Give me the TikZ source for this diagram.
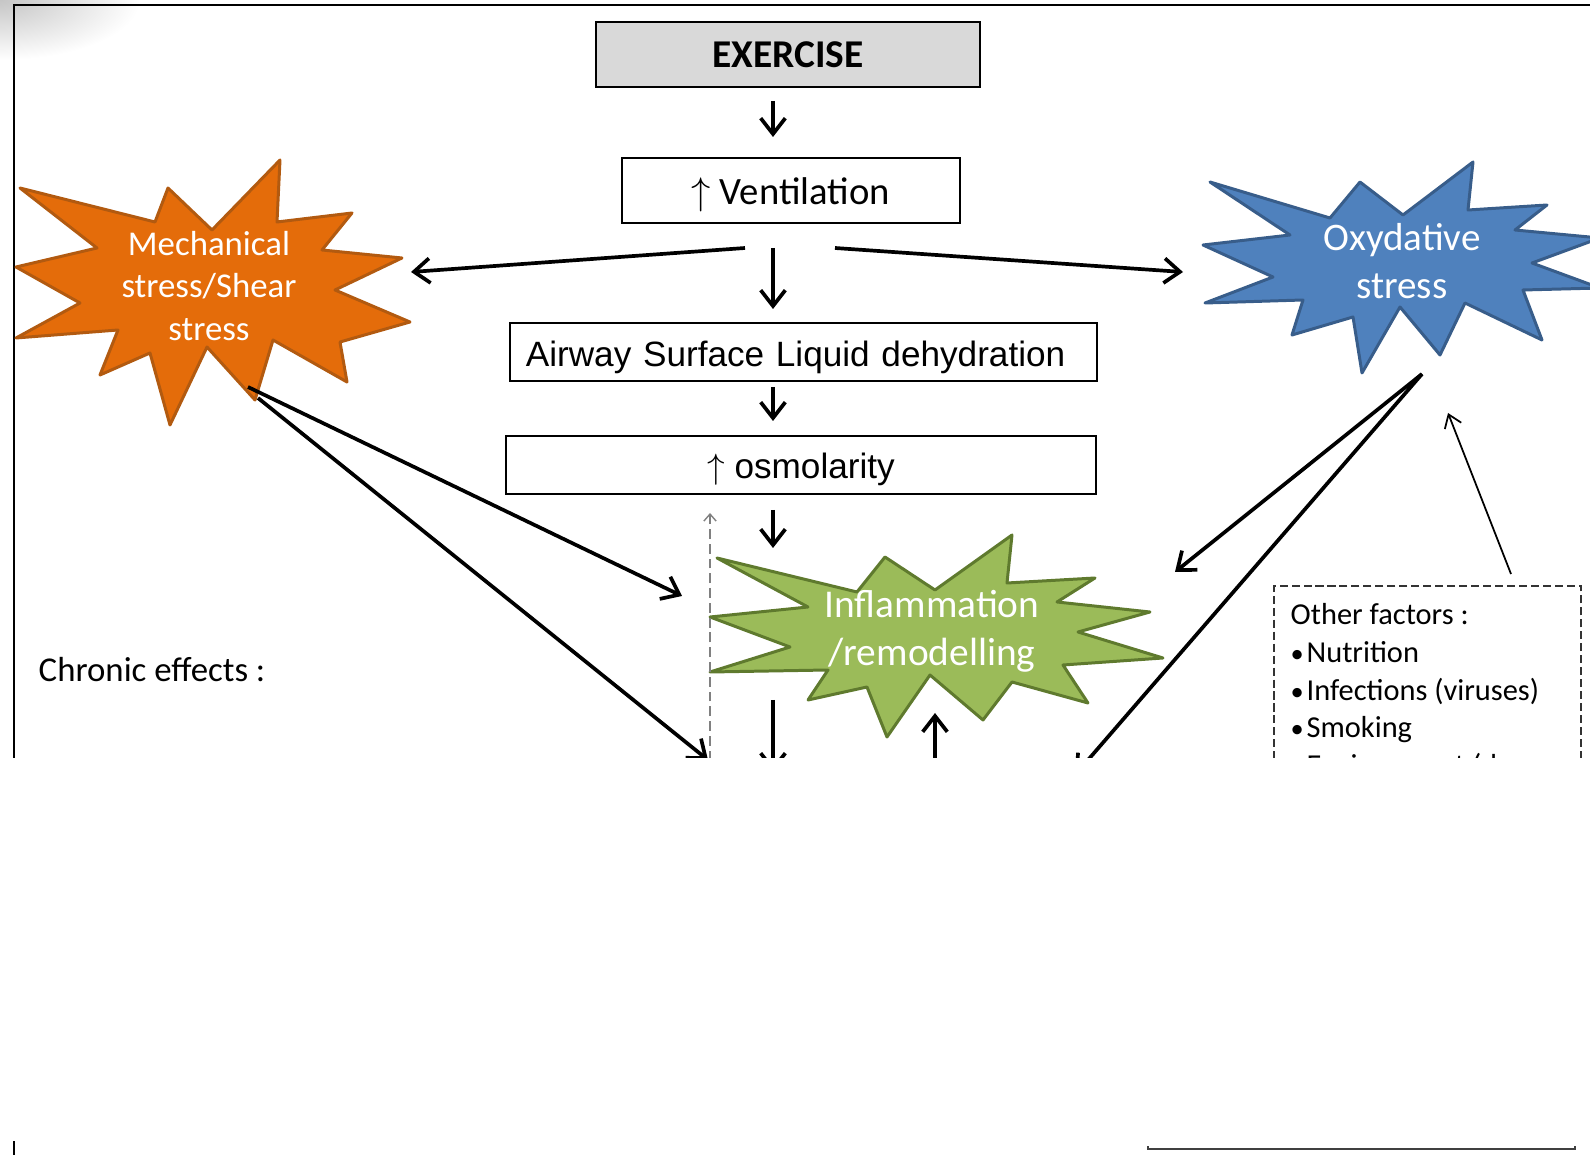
\documentclass[tikz,border=0pt]{standalone}
\usepackage{fontspec}
\setmainfont{Carlito}
\newfontfamily\arialfont{Liberation Sans}
\usetikzlibrary{arrows.meta}
\definecolor{orangefill}{HTML}{E46C0A}
\definecolor{orangeline}{HTML}{B25A10}
\definecolor{bluefill}{HTML}{4F81BD}
\definecolor{blueline}{HTML}{385D8A}
\definecolor{greenfill}{HTML}{9BBB59}
\definecolor{greenline}{HTML}{5F7A2E}
\definecolor{boxgray}{HTML}{D9D9D9}
\newcommand{\smallbullet}{{\fontsize{7.5}{6}\selectfont\textbullet}\hspace{0.8pt}}

\begin{document}
\begin{tikzpicture}[x=0.01cm,y=-0.01cm,
    box/.style={draw=black,line width=0.6pt,inner sep=0pt},
    flow/.style={line width=1.05pt,-{Straight Barb[length=4.5pt,width=7pt]}},
    thinflow/.style={line width=0.5pt,-{Straight Barb[length=3.5pt,width=5pt]}},
    backflow/.style={gray,line width=0.4pt,dash pattern=on 2.8pt off 1.4pt,-{Straight Barb[length=2pt,width=3.5pt]}},
    burst/.style={line width=0.85pt,line join=round},
    bursttext/.style={text=white,align=center}]
    \useasboundingbox (0,0) rectangle (1590,1155);
    \begin{scope}
    \clip (0,0) rectangle (140,60);
    \shade[inner color=gray!45,outer color=white] (0,0) ellipse (140 and 60);
    \end{scope}

    \begin{scope}
    \clip (0,0) rectangle (1590,758);
    \draw[line width=0.6pt] (1590,5) -- (14,5) -- (14,770);

    %bursts
    \filldraw[burst,fill=orangefill,draw=orangeline] (280,160) -- (277,222) -- (352,213) -- (322,250) -- (402,258) -- (335,290) -- (410,322) -- (340,342) -- (347,382) -- (273,340) -- (255,400) -- (207,347) -- (170,425) -- (150,353) -- (100,375) -- (118,330) -- (16,338) -- (80,303) -- (16,267) -- (97,248) -- (20,188) -- (155,222) -- (168,188) -- (212,230) -- cycle;
    \filldraw[burst,fill=bluefill,draw=blueline] (1473,162) -- (1468,210) -- (1547,205) -- (1515,230) -- (1600,238) -- (1532,263) -- (1600,288) -- (1523,290) -- (1542,340) -- (1465,303) -- (1440,355) -- (1400,307) -- (1362,373) -- (1353,317) -- (1292,335) -- (1303,300) -- (1205,303) -- (1273,277) -- (1203,245) -- (1290,235) -- (1210,182) -- (1330,218) -- (1360,182) -- (1403,215) -- cycle;
    \filldraw[burst,fill=greenfill,draw=greenline] (1012,535) -- (1007,583) -- (1095,578) -- (1057,602) -- (1150,612) -- (1078,632) -- (1163,658) -- (1063,665) -- (1088,703) -- (1012,682) -- (983,720) -- (930,675) -- (887,737) -- (867,687) -- (808,700) -- (828,670) -- (710,672) -- (790,647) -- (710,617) -- (808,607) -- (717,558) -- (857,592) -- (885,557) -- (935,590) -- cycle;

    \node[bursttext,font=\fontsize{9.9}{12.2}\selectfont] (mech) at (209,286) {Mechanical\\stress/Shear\\stress};
    \node[bursttext,font=\fontsize{11.1}{13.7}\selectfont] (oxy) at (1402,261) {Oxydative\\stress};
    \node[bursttext,font=\fontsize{11.2}{13.7}\selectfont] (infl) at (932,631) {Inflammation\\/remodelling};

    %main column
    \node[box,fill=boxgray,minimum width=3.84cm,minimum height=0.65cm,font=\fontsize{11.2}{13}\selectfont\bfseries] (exercise) at (788,54.5) {EXERCISE};
    \node[box,minimum width=3.38cm,minimum height=0.65cm,text height=8pt,text depth=0pt,font=\fontsize{11}{13}\selectfont] (vent) at (791,190.5) {$\uparrow$ Ventilation};
    \node[box,minimum width=5.87cm,minimum height=0.58cm,text height=8.2pt,text depth=0pt,text width=5.55cm,inner xsep=0.16cm,align=left,font=\arialfont\fontsize{10}{12}\selectfont] (asl) at (803.5,352) {Airway Surface Liquid dehydration};
    \node[box,minimum width=5.90cm,minimum height=0.58cm,text height=7.8pt,text depth=0pt,font=\arialfont\fontsize{10}{12}\selectfont] (osm) at (801,465) {$\uparrow$ osmolarity};

    %other factors
    \node[box,dash pattern=on 2.3pt off 1.1pt,line width=0.45pt,draw=black!80,anchor=north west,minimum width=3.07cm,minimum height=3.2cm] (otherbox) at (1273,585) {};
    \node[anchor=north west,inner sep=0pt,align=left,font=\fontsize{8.65}{10.7}\selectfont] (other) at (1290,603) {Other factors :\\\smallbullet Nutrition\\\smallbullet Infections (viruses)\\\smallbullet Smoking\\\smallbullet Environment (dry};

    \node[anchor=west,inner sep=0pt,font=\fontsize{9.9}{12}\selectfont] (chronic) at (38,670) {Chronic effects :};

    %arrow ends
    \coordinate (ex1) at (773,101);
    \coordinate (ex2) at (773,137);
    \coordinate (ve1) at (773,248);
    \coordinate (ve2) at (773,309);
    \coordinate (vl1) at (745,248);
    \coordinate (vl2) at (411,272);
    \coordinate (vr1) at (835,248);
    \coordinate (vr2) at (1183,272);
    \coordinate (as1) at (773,387);
    \coordinate (as2) at (773,421);
    \coordinate (os1) at (773,510);
    \coordinate (os2) at (773,548);
    \coordinate (in1) at (773,700);
    \coordinate (in2) at (773,772);
    \coordinate (up1) at (935,790);
    \coordinate (up2) at (935,713);
    \coordinate (me1) at (248,387);
    \coordinate (me2) at (682,596);
    \coordinate (me3) at (258,398);
    \coordinate (me4) at (708,760);
    \coordinate (ox1) at (1422,374);
    \coordinate (ox2) at (1175,572);
    \coordinate (ox3) at (1075,775);
    \coordinate (ot1) at (1511,574);
    \coordinate (ot2) at (1448,413);
    \coordinate (da1) at (710,790);
    \coordinate (da2) at (710,513);

    \path [flow] (ex1) edge (ex2);
    \path [flow] (ve1) edge (ve2);
    \path [flow] (vl1) edge (vl2);
    \path [flow] (vr1) edge (vr2);
    \path [flow] (as1) edge (as2);
    \path [flow] (os1) edge (os2);
    \path [flow] (in1) edge (in2);
    \path [flow] (up1) edge (up2);

    \path [flow] (me1) edge (me2);
    \path [flow] (me3) edge (me4);
    \path [flow] (ox1) edge (ox2);
    \path [flow] (ox1) edge (ox3);
    \path [thinflow] (ot1) edge (ot2);
    \path [backflow] (da1) edge (da2);
    \end{scope}

    %what is left of the lower part
    \draw[line width=0.6pt] (14,1141) -- (14,1155);
    \draw[line width=0.6pt,black!75] (1148,1146) -- (1148,1149) -- (1575,1149) -- (1575,1146);
\end{tikzpicture}
\end{document}
